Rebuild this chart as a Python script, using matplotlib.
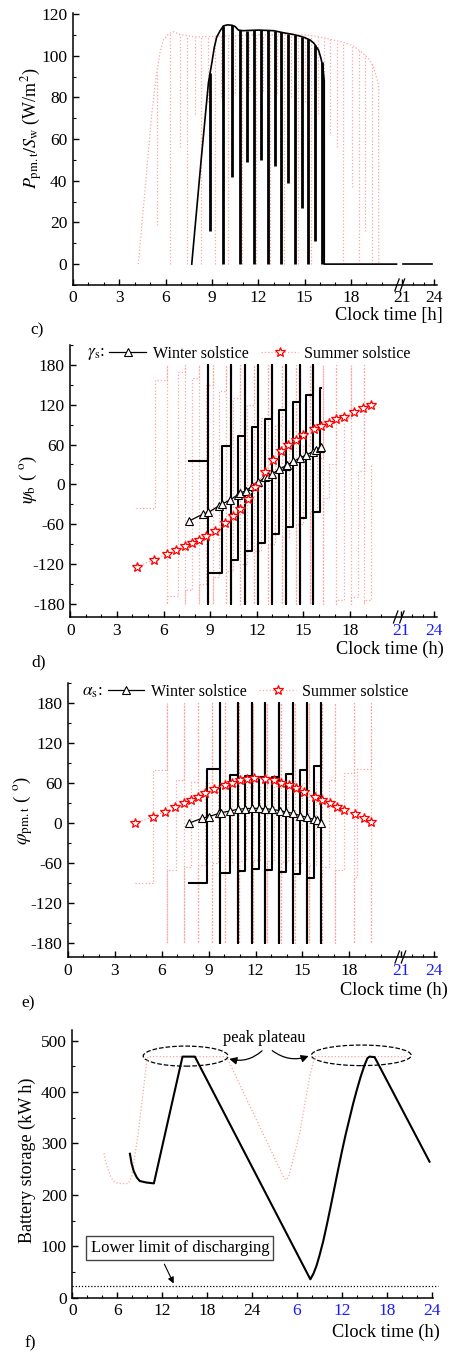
import numpy as np
import matplotlib
matplotlib.use('Agg')
import matplotlib.pyplot as plt
from matplotlib.lines import Line2D
from matplotlib.patches import Ellipse
from matplotlib.ticker import FixedLocator, MultipleLocator

# ---------------- c) normalised output power ----------------
c_win_t = [7.69, 8.3, 8.77, 8.99, 9.15, 9.31, 9.53, 9.74, 10.0, 10.3, 10.5, 10.71, 11.0, 12.0,
           13.0, 13.63, 14.2, 14.7, 15.0, 15.36, 15.6, 15.9, 16.05, 16.18, 16.27, 16.27, 20.95]
c_win_p = [0, 50, 87, 96.5, 104, 109, 112, 114.3, 114.8, 114.6, 114, 112.3, 112, 112.3,
           112, 111, 110.3, 109.4, 108.7, 107.5, 106, 102.7, 99, 94.7, 88, 0, 0]
c_win_tail_t = [21.14, 23.79]
c_win_tail_p = [0, 0]
c_win_drop_t = [8.88, 9.72, 10.32, 10.82, 11.27, 11.73, 12.16, 12.61, 13.05, 13.48, 13.93,
                14.38, 14.84, 15.25, 15.68, 16.11]
c_win_drop_min = [16, 0, 42, 0, 49, 0, 50, 0, 47, 0, 39, 0, 27, 0, 11, 0]

c_sum_t = [4.23, 4.5, 4.8, 5.1, 5.42, 5.65, 5.85, 6.2, 6.5, 7.0, 8.0, 10.0, 12.0, 14.0, 15.15,
           16.0, 16.87, 17.5, 18.2, 18.8, 19.2, 19.46, 19.79, 19.8]
c_sum_p = [0, 22, 47, 72, 92, 102, 107.5, 110.5, 111.5, 110, 109, 109.5, 110, 110, 110,
           109, 107.5, 106.5, 104.5, 101, 98, 94.7, 86, 0]
c_sum_drop_t = [5.42, 6.28, 6.93, 7.37, 7.9, 8.3, 8.75, 9.2, 9.6, 10.05, 10.5, 10.95, 11.4,
                11.85, 12.3, 12.75, 13.2, 13.65, 14.1, 14.55, 15.0, 15.4, 15.85, 16.25, 16.65,
                17.08, 17.5, 18.05, 18.5, 18.9, 19.35]
c_sum_drop_min = [19, 0, 56, 0, 72, 0, 78, 0, 80, 0, 82, 0, 83, 0, 83, 0, 82, 0, 80, 0, 78,
                  0, 72, 0, 63, 56, 0, 37, 0, 16, 0]

# ---------------- d) psi_b and solar azimuth ----------------
d_win_edges = [7.67, 8.88, 9.73, 10.31, 10.77, 11.25, 11.67, 12.1, 12.52, 12.98, 13.44, 13.88,
               14.34, 14.77, 15.19, 15.63, 16.08, 16.1]
d_win_levels = [34.4, -133, 58, -114, 73, -101, 86, -88, 99, -75, 112, -64, 124, -51, 134,
                -41, 145]
d_sum_edges = [4.25, 5.43, 6.2, 6.9, 7.4, 7.85, 8.3, 8.75, 9.2, 9.6, 10.05, 10.5, 10.95, 11.4,
               11.85, 12.3, 12.75, 13.2, 13.65, 14.1, 14.55, 15.0, 15.4, 15.85, 16.25, 16.65,
               17.08, 17.6, 18.05, 18.5, 18.9, 19.35, 19.4]
d_sum_levels = [-35, 157, -168, 170, -160, 160, -150, 150, -140, 140, -130, 130, -120, 120,
                -100, 100, -90, 90, -80, 80, -60, 60, -40, 40, -20, 30, -175, 100, -170, 20,
                -175, 30]
d_win_gam_t = [7.67, 8.53, 8.89, 9.59, 9.74, 10.3, 10.77, 10.92, 11.3, 11.67, 12.09, 12.54,
               12.69, 13.0, 13.44, 13.87, 13.97, 14.34, 14.76, 15.19, 15.62, 15.79, 16.05, 16.15]
d_win_gam = [-55, -45, -42.4, -32, -30, -23.3, -15.8, -13.3, -9.8, -3.3, 3.3, 10.3, 11.8,
             15.8, 22.8, 27.9, 29.4, 34.4, 39.4, 44.4, 49.4, 52, 54.5, 56]
d_sum_gam_t = [4.29, 5.38, 6.22, 6.82, 7.39, 7.82, 8.27, 8.74, 9.32, 9.98, 10.45, 10.92, 11.41,
               11.88, 12.52, 13.06, 13.55, 14.02, 14.51, 14.98, 15.68, 16.15, 16.65, 17.12,
               17.6, 18.25, 18.82, 19.32]
d_sum_gam = [-124.7, -113.7, -105.2, -99.7, -93.6, -88.6, -84.6, -78.6, -70, -59, -48.4, -37.4,
             -22.3, -4.8, 19.3, 36.9, 49.5, 59, 67, 74.5, 83, 88, 93, 98, 102, 109, 114.7, 120.3]

# ---------------- e) phi_pm.t and solar altitude ----------------
e_win_edges = [7.72, 8.89, 9.70, 10.38, 10.85, 11.34, 11.75, 12.24, 12.62, 13.05, 13.50, 13.97,
               14.39, 14.86, 15.29, 15.76, 16.18, 16.2]
e_win_levels = [-90, 81, -74, 72.5, -71, 71, -69, 70, -70, 70, -72.5, 74, -76, 80, -82.5, 86,
                -88]
e_sum_edges = [4.3, 5.45, 6.33, 6.9, 7.4, 7.85, 8.3, 8.75, 9.2, 9.6, 10.05, 10.5, 10.95, 11.4,
               11.85, 12.3, 12.75, 13.2, 13.65, 14.1, 14.55, 15.0, 15.4, 15.85, 16.25, 16.7,
               17.1, 17.63, 18.3, 18.5, 19.4, 19.42]
e_sum_levels = [-90, 80, -70, 65, -65, 62, -62, 60, -60, 58, -58, 56, -56, 55, -55, 55, -56,
                56, -58, 58, -60, 60, -62, 62, -65, 65, -70, 75, -80, 82, -88]
e_win_alp_t = [7.72, 8.57, 9.0, 9.68, 9.79, 10.38, 10.85, 11.34, 11.77, 12.2, 12.62, 13.05,
               13.54, 13.97, 14.39, 14.86, 15.29, 15.71, 15.93, 16.18]
e_win_alp = [0, 7.5, 10, 15, 16, 18.5, 21, 22, 22.5, 22.5, 22, 21, 19, 17, 15, 11.5, 9, 6, 5, 1]
e_sum_alp_t = [4.31, 5.44, 6.23, 6.87, 7.4, 7.87, 8.32, 8.78, 9.36, 10.02, 10.49, 10.98, 11.45,
               11.92, 12.58, 13.16, 13.62, 14.12, 14.58, 15.07, 15.78, 16.25, 16.74, 17.21,
               17.68, 18.34, 18.91, 19.4]
e_sum_alp = [0, 10, 17.5, 25, 30, 35, 40, 45, 51, 57.5, 61, 65, 67, 68.5, 67, 65, 61, 57.5,
             53.5, 47.5, 40, 35, 30, 25, 20, 13.5, 7.5, 2.5]

# ---------------- f) battery storage over two days ----------------
f_win_t = [7.69, 7.9, 8.2, 8.6, 9.0, 9.9, 10.89, 14.71, 16.36, 31.78, 32.2, 32.6, 33.0, 33.5,
           34.0, 34.5, 35.0, 35.5, 36.0, 36.5, 37.0, 37.5, 38.0, 38.5, 39.0, 39.4, 39.69, 40.36,
           47.69]
f_win_e = [280, 262, 246, 234, 227, 224, 222.4, 469, 469, 35.7, 47, 62, 82, 110, 143, 178, 214,
           250, 285, 318, 348, 378, 405, 430, 452, 466, 469, 468, 264.6]
f_sum_t = [4.22, 4.5, 4.8, 5.2, 5.69, 6.5, 7.47, 7.91, 8.8, 9.91, 10.13, 20.58, 28.3, 28.55,
           28.9, 30.36, 31.69, 32.36, 44.58]
f_sum_e = [281, 262, 248, 233, 224, 222, 222, 235, 320, 456, 469, 469, 232, 229, 236, 320, 430,
           469, 469]
f_limit = 22.7

hour_ticks = [0, 3, 6, 9, 12, 15, 18, 21, 24]
hour_minor = [1, 2, 4, 5, 7, 8, 10, 11, 13, 14, 16, 17, 19, 20, 22, 23]
f_ticks = [0, 6, 12, 18, 24, 30, 36, 42, 48]
f_labels = ['0', '6', '12', '18', '24', '6', '12', '18', '24']

PINK = '#ffa3a3'
BLUE = '#1a1aff'

plt.rcParams['font.family'] = ['Liberation Serif', 'DejaVu Serif']
plt.rcParams['mathtext.fontset'] = 'stix'
plt.rcParams['axes.unicode_minus'] = False


def fwd(x):
    x = np.asarray(x, dtype=float)
    return np.where(x < 21, x, 21.3 + (x - 21) * 0.7)


def inv(u):
    u = np.asarray(u, dtype=float)
    return np.where(u < 21, u, np.where(u < 21.3, 21.0, 21 + (u - 21.3) / 0.7))


def square_wave(edges, levels):
    # flat segments joined by steps; a drop means the angle wrapped through +/-180
    xs, ys = [edges[0]], [levels[0]]
    for i in range(len(levels)):
        xs.append(edges[i + 1])
        ys.append(levels[i])
        if i + 1 < len(levels):
            if levels[i + 1] < levels[i]:
                xs += [edges[i + 1], edges[i + 1]]
                ys += [180, -180]
            xs.append(edges[i + 1])
            ys.append(levels[i + 1])
    return xs, ys


def style(ax):
    for s in ['top', 'right']:
        ax.spines[s].set_visible(False)
    for s in ['left', 'bottom']:
        ax.spines[s].set_linewidth(1.1)
    ax.tick_params(which='both', direction='in', top=False, right=False, labelsize=12.5)
    ax.tick_params(which='major', length=4, width=1.0, pad=4)
    ax.tick_params(which='minor', length=2.2, width=0.8)


def hour_axis(ax, blue_end):
    ax.set_xscale('function', functions=(fwd, inv))
    ax.set_xlim(0, 24.25)
    ax.xaxis.set_major_locator(FixedLocator(hour_ticks))
    ax.xaxis.set_minor_locator(FixedLocator(hour_minor))
    ax.set_xticks(hour_ticks, labels=[str(h) for h in hour_ticks])
    if blue_end:
        for lbl in ax.get_xticklabels()[-2:]:
            lbl.set_color(BLUE)


def axis_break(ax, fx):
    for x0 in fx:
        ax.plot([x0 - 0.006, x0 + 0.006], [-0.022, 0.022], transform=ax.transAxes,
                color='k', lw=0.9, clip_on=False, zorder=6)


fig = plt.figure(figsize=(4.54, 13.53), dpi=100)

# ---- c) ----
ax = fig.add_axes([0.1608, 0.7894, 0.8018, 0.2010])
style(ax)
hour_axis(ax, False)
ax.plot(c_sum_t, c_sum_p, color=PINK, ls=':', lw=0.9)
top = np.interp(c_sum_drop_t, c_sum_t[:-1], c_sum_p[:-1])
ax.vlines(c_sum_drop_t, c_sum_drop_min, top, colors=PINK, linestyles=':', lw=0.9)
ax.plot(c_win_t, c_win_p, color='k', lw=1.2)
ax.plot(c_win_tail_t, c_win_tail_p, color='k', lw=1.2)
top = np.interp(c_win_drop_t, c_win_t[:-2], c_win_p[:-2])
ax.vlines(c_win_drop_t, c_win_drop_min, top, colors='k', lw=2.0)
ax.set_ylim(-10, 120.5)
ax.set_yticks([0, 20, 40, 60, 80, 100, 120])
ax.yaxis.set_minor_locator(MultipleLocator(10))
ax.set_xlabel('Clock time [h]', fontsize=13.2, ha='right', va='center')
ax.xaxis.set_label_coords(1.017, -0.114)
ax.set_ylabel(r'$P_{\rm pm.t}/S_{\rm w}$ (W/m$^2$)', fontsize=13, ha='center', va='center')
ax.yaxis.set_label_coords(-0.113, 0.575)
axis_break(ax, [0.89, 0.905])
fig.text(0.066, 1 - 330 / 1353, 'c)', fontsize=12.5, va='center')

# ---- d) ----
ax = fig.add_axes([0.1548, 0.5440, 0.8071, 0.2010])
style(ax)
hour_axis(ax, True)
xs, ys = square_wave(d_sum_edges, d_sum_levels)
ax.plot(xs, ys, color=PINK, ls=':', lw=0.9)
xs, ys = square_wave(d_win_edges, d_win_levels)
ax.plot(xs, ys, color='k', lw=1.5)
ax.plot(d_win_gam_t, d_win_gam, color='k', lw=0.9, marker='^', ms=6, mfc='white', mec='k',
        mew=0.8, zorder=4)
ax.plot(d_sum_gam_t, d_sum_gam, color=PINK, ls=':', lw=0.9, marker='*', ms=7.5, mfc='white',
        mec='red', mew=0.9, zorder=5)
ax.set_ylim(-200, 210)
ax.set_yticks([-180, -120, -60, 0, 60, 120, 180])
ax.yaxis.set_minor_locator(MultipleLocator(30))
ax.set_xlabel('Clock time (h)', fontsize=13.2, ha='right', va='center')
ax.xaxis.set_label_coords(1.018, -0.119)
ax.set_ylabel(r'$\psi_{\rm b}$ ( $^{\rm o}$)', fontsize=13.5, ha='center', va='center')
ax.yaxis.set_label_coords(-0.115, 0.504)
axis_break(ax, [0.888, 0.905])
handles = [Line2D([], [], color='k', lw=0.9, marker='^', ms=6, mfc='white', mec='k', mew=0.8),
           Line2D([], [], color=PINK, ls=':', lw=0.9, marker='*', ms=7.5, mfc='white',
                  mec='red', mew=0.9)]
ax.legend(handles, ['Winter solstice', 'Summer solstice'], ncol=2, loc='center left',
          bbox_to_anchor=(0.107, 0.967), frameon=False, fontsize=11.5, borderpad=0,
          borderaxespad=0, handlelength=2.3, handletextpad=0.4, columnspacing=0.8)
ax.text(0.045, 0.967, r'$\gamma_{\rm s}$:', transform=ax.transAxes, fontsize=12.5,
        va='center', ha='left')
fig.text(0.07, 1 - 662 / 1353, 'd)', fontsize=12.5, va='center')

# ---- e) ----
ax = fig.add_axes([0.1491, 0.2927, 0.8128, 0.2025])
style(ax)
hour_axis(ax, True)
xs, ys = square_wave(e_sum_edges, e_sum_levels)
ax.plot(xs, ys, color=PINK, ls=':', lw=0.9)
xs, ys = square_wave(e_win_edges, e_win_levels)
ax.plot(xs, ys, color='k', lw=1.5)
ax.plot(e_win_alp_t, e_win_alp, color='k', lw=0.9, marker='^', ms=6, mfc='white', mec='k',
        mew=0.8, zorder=4)
ax.plot(e_sum_alp_t, e_sum_alp, color=PINK, ls=':', lw=0.9, marker='*', ms=7.5, mfc='white',
        mec='red', mew=0.9, zorder=5)
ax.set_ylim(-200.5, 210.5)
ax.set_yticks([-180, -120, -60, 0, 60, 120, 180])
ax.yaxis.set_minor_locator(MultipleLocator(30))
ax.set_xlabel('Clock time (h)', fontsize=13.2, ha='right', va='center')
ax.xaxis.set_label_coords(1.031, -0.12)
ax.set_ylabel(r'$\varphi_{\rm pm.t}$ ( $^{\rm o}$)', fontsize=13.5, ha='center', va='center')
ax.yaxis.set_label_coords(-0.121, 0.536)
axis_break(ax, [0.893, 0.91])
ax.legend(handles, ['Winter solstice', 'Summer solstice'], ncol=2, loc='center left',
          bbox_to_anchor=(0.108, 0.968), frameon=False, fontsize=11.5, borderpad=0,
          borderaxespad=0, handlelength=2.3, handletextpad=0.4, columnspacing=0.8)
ax.text(0.04, 0.968, r'$\alpha_{\rm s}$:', transform=ax.transAxes, fontsize=12.5,
        va='center', ha='left')
fig.text(0.048, 1 - 1003 / 1353, 'e)', fontsize=12.5, va='center')

# ---- f) ----
ax = fig.add_axes([0.1593, 0.0409, 0.7952, 0.1979])
style(ax)
ax.plot(f_sum_t, f_sum_e, color=PINK, ls=':', lw=0.9)
ax.plot(f_win_t, f_win_e, color='k', lw=1.5)
ax.plot([0, 48.8], [f_limit, f_limit], color='k', ls=(0, (1, 1.5)), lw=0.9, clip_on=False)
ax.set_xlim(0, 48.2)
ax.set_ylim(0, 521)
ax.set_xticks(f_ticks, labels=f_labels)
for lbl in ax.get_xticklabels()[5:]:
    lbl.set_color(BLUE)
ax.xaxis.set_minor_locator(MultipleLocator(2))
ax.set_yticks([0, 100, 200, 300, 400, 500])
ax.yaxis.set_minor_locator(MultipleLocator(50))
ax.set_xlabel('Clock time (h)', fontsize=13.2, ha='right', va='center')
ax.xaxis.set_label_coords(1.019, -0.13)
ax.set_ylabel('Battery storage (kW h)', fontsize=13, ha='center', va='center')
ax.yaxis.set_label_coords(-0.125, 0.514)
ax.add_patch(Ellipse((15.13, 470), 11.33, 39, fill=False, ls='--', lw=0.9, ec='k'))
ax.add_patch(Ellipse((38.58, 471.5), 13.33, 40, fill=False, ls='--', lw=0.9, ec='k'))
ax.text(25.56, 504.5, 'peak plateau', ha='center', va='center', fontsize=11.8)
ax.annotate('', xy=(20.6, 466), xytext=(25.6, 484),
            arrowprops=dict(arrowstyle='-|>', color='k', lw=0.9, mutation_scale=11,
                            connectionstyle='arc3,rad=-0.3'))
ax.annotate('', xy=(31.9, 472), xytext=(26.4, 484),
            arrowprops=dict(arrowstyle='-|>', color='k', lw=0.9, mutation_scale=11,
                            connectionstyle='arc3,rad=0.3'))
ax.text(14.36, 96.6, 'Lower limit of discharging', ha='center', va='center', fontsize=12,
        bbox=dict(boxstyle='square,pad=0.25', fc='white', ec='#444444', lw=1))
ax.annotate('', xy=(13.69, f_limit), xytext=(12.13, 70),
            arrowprops=dict(arrowstyle='-|>', color='k', lw=0.8, mutation_scale=9))
fig.text(0.055, 1 - 1343 / 1353, 'f)', fontsize=12.5, va='center')

fig.savefig('out.png', dpi=100)
